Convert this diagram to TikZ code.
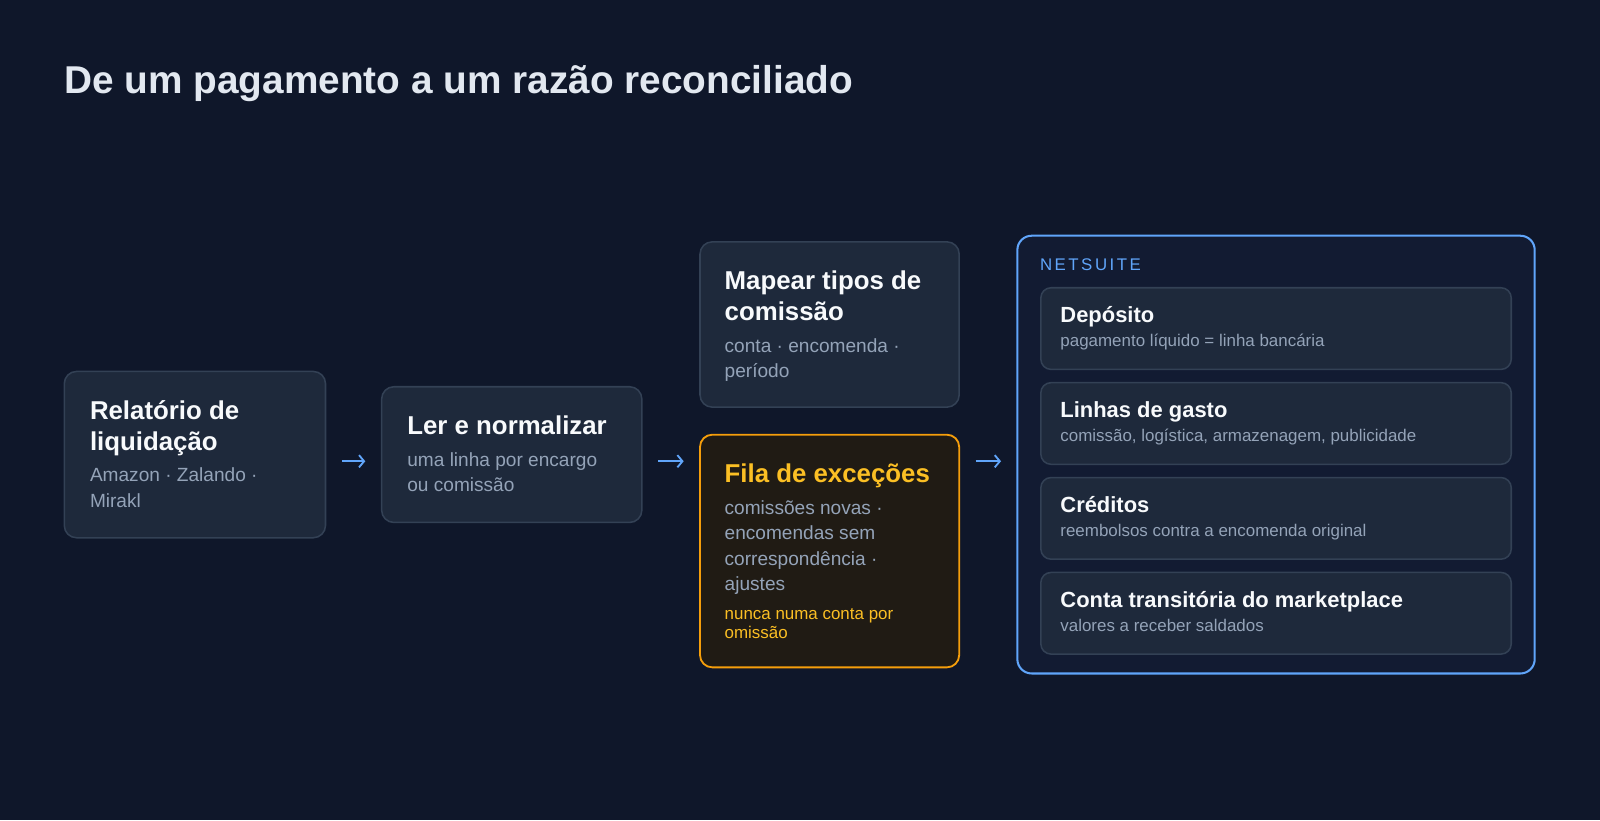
\documentclass[tikz,border=0pt]{standalone}
\usepackage{fontspec}
\setmainfont{Liberation Sans}
\usetikzlibrary{arrows.meta}
\definecolor{bg}{HTML}{0F172A}
\definecolor{cardfill}{HTML}{1E293B}
\definecolor{cardline}{HTML}{334155}
\definecolor{subc}{HTML}{94A3B8}
\definecolor{titlec}{HTML}{E2E8F0}
\definecolor{headc}{HTML}{F8FAFC}
\definecolor{bluec}{HTML}{60A5FA}
\definecolor{amberline}{HTML}{F59E0B}
\definecolor{ambertext}{HTML}{FBBF24}
\definecolor{excfill}{HTML}{201B14}
\definecolor{nsfill}{HTML}{121B32}
\tikzset{
  card/.style={draw=cardline, fill=cardfill, line width=1.5pt, rounded corners=12pt, anchor=north west, inner sep=0pt, outer sep=0pt},
  exccard/.style={card, draw=amberline, fill=excfill, line width=1.8pt},
  nsbox/.style={draw=bluec, fill=nsfill, line width=2pt, rounded corners=14pt, anchor=north west, inner sep=0pt, outer sep=0pt},
  inner/.style={card, rounded corners=10pt, minimum width=461pt, minimum height=80pt},
  ttl/.style={anchor=base west, inner sep=0pt, text=headc, font=\bfseries\fontsize{25.3}{30}\selectfont},
  sub/.style={anchor=base west, inner sep=0pt, text=subc, font=\fontsize{18.7}{25}\selectfont},
  note/.style={anchor=base west, inner sep=0pt, text=ambertext, font=\fontsize{16.6}{20}\selectfont},
  nttl/.style={anchor=base west, inner sep=0pt, text=headc, font=\bfseries\fontsize{21.5}{26}\selectfont},
  nsub/.style={anchor=base west, inner sep=0pt, text=subc, font=\fontsize{16.6}{20}\selectfont},
  flow/.style={draw=bluec, line width=1.8pt, -{Straight Barb[length=5pt,width=12pt,line width=1.8pt]}, shorten <=16pt, shorten >=16pt}
}
\begin{document}
\begin{tikzpicture}[x=1pt,y=-1pt]
\fill[bg] (0,0) rectangle (1568,804);
\useasboundingbox (0,0) rectangle (1568,804);

\node[anchor=base west, inner sep=0pt, text=titlec, font=\bfseries\fontsize{38}{46}\selectfont] (title) at (63,92) {De um pagamento a um razão reconciliado};

% box 1
\node[card, minimum width=256pt, minimum height=163pt] (b1) at (63,364) {};
\node[ttl] (b1t1) at (88,411) {Relatório de};
\node[ttl] (b1t2) at (88,441) {liquidação};
\node[sub] (b1s1) at (88,472) {Amazon · Zalando ·};
\node[sub] (b1s2) at (88,497) {Mirakl};

% box 2
\node[card, minimum width=255pt, minimum height=133pt] (b2) at (374,379) {};
\node[ttl] (b2t1) at (399,426) {Ler e normalizar};
\node[sub] (b2s1) at (399,457) {uma linha por encargo};
\node[sub] (b2s2) at (399,482) {ou comissão};

% box 3
\node[card, minimum width=254pt, minimum height=162pt] (b3) at (686,237) {};
\node[ttl] (b3t1) at (710,284) {Mapear tipos de};
\node[ttl] (b3t2) at (710,314) {comissão};
\node[sub] (b3s1) at (710,345) {conta · encomenda ·};
\node[sub] (b3s2) at (710,370) {período};

% box 4 (exceptions)
\node[exccard, minimum width=254pt, minimum height=228pt] (b4) at (686,426) {};
\node[ttl, text=ambertext] (b4t1) at (710,473) {Fila de exceções};
\node[sub] (b4s1) at (710,504) {comissões novas ·};
\node[sub] (b4s2) at (710,529) {encomendas sem};
\node[sub] (b4s3) at (710,554) {correspondência ·};
\node[sub] (b4s4) at (710,579) {ajustes};
\node[note] (b4n1) at (710,607) {nunca numa conta por};
\node[note] (b4n2) at (710,626) {omissão};

% NetSuite
\node[nsbox, minimum width=507pt, minimum height=429pt] (ns) at (997,231) {};
\node[anchor=base west, inner sep=0pt, text=bluec, font=\fontsize{16.5}{20}\selectfont\addfontfeatures{LetterSpace=15}] (nsl) at (1019,265) {NETSUITE};

\node[inner] (n1) at (1020,282) {};
\node[nttl] (n1t) at (1039,316) {Depósito};
\node[nsub] (n1s) at (1039,340) {pagamento líquido = linha bancária};

\node[inner] (n2) at (1020,375) {};
\node[nttl] (n2t) at (1039,409) {Linhas de gasto};
\node[nsub] (n2s) at (1039,433) {comissão, logística, armazenagem, publicidade};

\node[inner] (n3) at (1020,468) {};
\node[nttl] (n3t) at (1039,502) {Créditos};
\node[nsub] (n3s) at (1039,526) {reembolsos contra a encomenda original};

\node[inner] (n4) at (1020,561) {};
\node[nttl] (n4t) at (1039,595) {Conta transitória do marketplace};
\node[nsub] (n4s) at (1039,619) {valores a receber saldados};

% connectors
\draw[flow] ([yshift=-6.5pt]b1.east) -- ([yshift=-6.5pt]b2.west);
\draw[flow] ([yshift=-6.5pt]b2.east) -- ([yshift=-6.5pt]b2.east -| b4.west);
\draw[flow] ([yshift=-6.5pt]b2.east -| b4.east) -- ([yshift=-6.5pt]b2.east -| ns.west);
\end{tikzpicture}
\end{document}
